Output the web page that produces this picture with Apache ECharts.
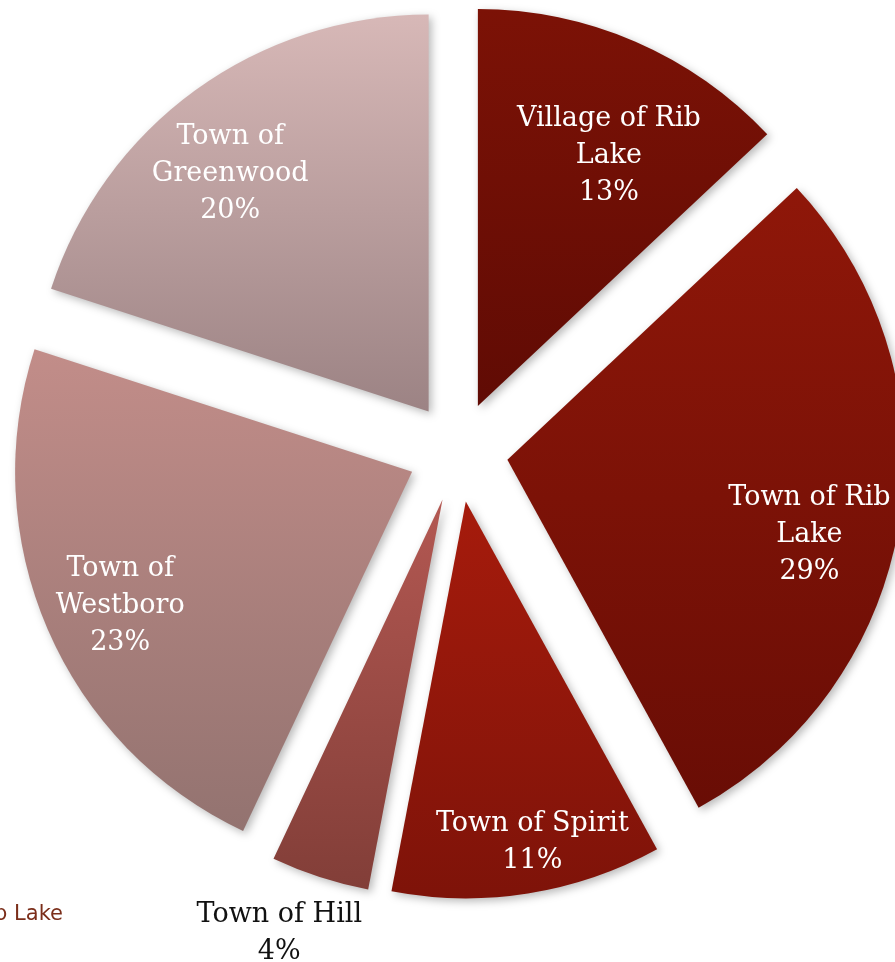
<!DOCTYPE html>
<html>
<head>
<meta charset="utf-8">
<script src="https://cdn.jsdelivr.net/npm/echarts@6/dist/echarts.min.js"></script>
<style>
  html, body { margin: 0; padding: 0; background: #ffffff; }
  #chart { width: 895px; height: 962px; }
</style>
</head>
<body>
<div id="chart"></div>
<script>
// Share of the area by municipality (percent)
const categories = [
  'Village of Rib Lake',
  'Town of Rib Lake',
  'Town of Spirit',
  'Town of Hill',
  'Town of Westboro',
  'Town of Greenwood'
];
const values = [13, 29, 11, 4, 23, 20];
const labelLines = [
  'Village of Rib\nLake',
  'Town of Rib\nLake',
  'Town of Spirit',
  'Town of Hill',
  'Town of\nWestboro',
  'Town of\nGreenwood'
];

// Vertical gradient per slice: [top, bottom]
const sliceColors = [
  ['#7c1206', '#600b04'],
  ['#8f1709', '#690d05'],
  ['#a61b0c', '#7e1309'],
  ['#b35852', '#823e38'],
  ['#c28d89', '#937370'],
  ['#d7b8b7', '#9c8384']
];
const labelColors = ['#ffffff', '#ffffff', '#ffffff', '#111111', '#ffffff', '#ffffff'];
// Nudges from the default inside label anchor
const labelShift = [
  [51, -65],
  [103, 44],
  [35, 142],
  [-101, 242],
  [-107, 54],
  [-80, -75]
];

const chart = echarts.init(document.getElementById('chart'), null, { renderer: 'canvas' });

const seriesData = categories.map((name, i) => ({
  name: name,
  value: values[i],
  selected: true,
  itemStyle: {
    color: new echarts.graphic.LinearGradient(0, 0, 0, 1, [
      { offset: 0, color: sliceColors[i][0] },
      { offset: 1, color: sliceColors[i][1] }
    ])
  },
  label: { color: labelColors[i] }
}));

chart.setOption({
  animation: false,
  backgroundColor: '#ffffff',
  series: [{
    type: 'pie',
    center: [458, 452],
    radius: [0, 397],
    startAngle: 90,
    clockwise: true,
    selectedMode: 'multiple',
    selectedOffset: 50,
    avoidLabelOverlap: false,
    itemStyle: {
      shadowBlur: 8,
      shadowOffsetX: 3,
      shadowOffsetY: 3,
      shadowColor: 'rgba(0,0,0,0.28)'
    },
    label: {
      show: true,
      position: 'inside',
      fontFamily: '"DejaVu Serif", serif',
      fontSize: 27,
      lineHeight: 37,
      align: 'center',
      formatter: (p) => labelLines[p.dataIndex] + '\n' + p.value + '%'
    },
    labelLine: { show: false },
    labelLayout: (p) => ({ dx: labelShift[p.dataIndex][0], dy: labelShift[p.dataIndex][1] }),
    emphasis: { disabled: true },
    select: { disabled: false },
    data: seriesData
  }],
  graphic: [{
    type: 'text',
    right: 832,
    top: 904,
    style: {
      text: 'Village of Rib Lake',
      fontFamily: '"DejaVu Sans", sans-serif',
      fontSize: 21,
      fill: '#7b2e1a',
      textAlign: 'right'
    }
  }]
});
</script>
</body>
</html>
